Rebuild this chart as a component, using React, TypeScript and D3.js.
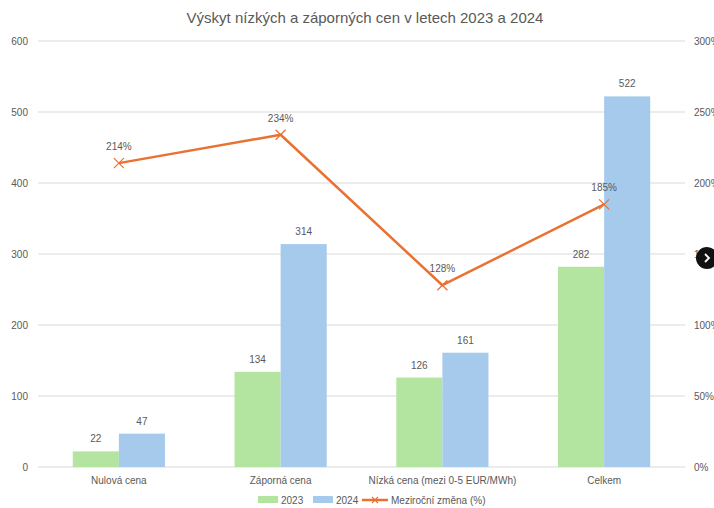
import { useEffect, useRef } from 'react';
import * as d3 from 'd3';

const categories = ['Nulová cena', 'Záporná cena', 'Nízká cena (mezi 0-5 EUR/MWh)', 'Celkem'];
const values2023 = [22, 134, 126, 282];
const values2024 = [47, 314, 161, 522];
const changePct = [214, 234, 128, 185];
const leftTicks = [0, 100, 200, 300, 400, 500, 600];
const rightTicks = [0, 50, 100, 150, 200, 250, 300];

const W = 714;
const H = 508;
const FONT = "'Liberation Sans', Arial, sans-serif";
const GREY = '#595959';
const GREEN = '#b3e5a1';
const BLUE = '#a6caec';
const ORANGE = '#e97132';

export default function App() {
  const ref = useRef<SVGSVGElement>(null);

  useEffect(() => {
    if (!ref.current) return;
    const svg = d3.select(ref.current);
    svg.selectAll('*').remove();

    const left = 38, right = 685, top = 41, bottom = 467;

    const x = d3.scaleBand<string>().domain(categories).range([left, right])
      .paddingInner(0.43).paddingOuter(0.215);
    const xs = d3.scaleBand<string>().domain(['2023', '2024']).range([0, x.bandwidth()]);
    const y = d3.scaleLinear().domain([0, 600]).range([bottom, top]);
    const y2 = d3.scaleLinear().domain([0, 300]).range([bottom, top]);

    svg.append('rect').attr('width', W).attr('height', H).attr('fill', '#fff');

    // title
    svg.append('text').attr('x', 365).attr('y', 23).attr('text-anchor', 'middle')
      .attr('font-size', 15).attr('fill', GREY).attr('font-family', FONT)
      .text('Výskyt nízkých a záporných cen v letech 2023 a 2024');

    // grid + axes
    const g = svg.append('g').attr('font-family', FONT).attr('font-size', 10).attr('fill', GREY);
    leftTicks.forEach(t => {
      g.append('line').attr('x1', left).attr('x2', right).attr('y1', y(t)).attr('y2', y(t))
        .attr('stroke', '#d9d9d9').attr('stroke-width', 1);
      g.append('text').attr('x', 28).attr('y', y(t) + 3.5).attr('text-anchor', 'end').text(t);
    });
    rightTicks.forEach(t => {
      g.append('text').attr('x', 694).attr('y', y2(t) + 3.5).attr('text-anchor', 'start').text(`${t}%`);
    });

    const marks = svg.append('g');
    const labels = svg.append('g').attr('font-family', FONT).attr('font-size', 10).attr('fill', GREY);

    // bars
    const series = [
      { key: '2023', vals: values2023, color: GREEN },
      { key: '2024', vals: values2024, color: BLUE },
    ];
    series.forEach(s => {
      categories.forEach((c, i) => {
        const bx = (x(c) ?? 0) + (xs(s.key) ?? 0);
        marks.append('rect').attr('x', bx).attr('y', y(s.vals[i]))
          .attr('width', xs.bandwidth()).attr('height', bottom - y(s.vals[i])).attr('fill', s.color);
        labels.append('text').attr('x', bx + xs.bandwidth() / 2).attr('y', y(s.vals[i]) - 9)
          .attr('text-anchor', 'middle').text(s.vals[i]);
      });
    });

    // category labels
    categories.forEach(c => {
      labels.append('text').attr('x', (x(c) ?? 0) + x.bandwidth() / 2).attr('y', 484)
        .attr('text-anchor', 'middle').text(c);
    });

    // line
    const cx = (c: string) => (x(c) ?? 0) + x.bandwidth() / 2;
    const line = d3.line<number>().x((_, i) => cx(categories[i])).y(d => y2(d));
    marks.append('path').datum(changePct).attr('d', line).attr('fill', 'none')
      .attr('stroke', ORANGE).attr('stroke-width', 2.5).attr('stroke-linejoin', 'round');
    changePct.forEach((v, i) => {
      const px = cx(categories[i]), py = y2(v);
      marks.append('path').attr('d', `M${px - 5},${py - 5}L${px + 5},${py + 5}M${px - 5},${py + 5}L${px + 5},${py - 5}`)
        .attr('stroke', ORANGE).attr('stroke-width', 1.2);
      labels.append('text').attr('x', px).attr('y', py - 13).attr('text-anchor', 'middle').text(`${v}%`);
    });

    // legend
    const ly = 500;
    const lg = svg.append('g').attr('font-family', FONT).attr('font-size', 10).attr('fill', GREY);
    lg.append('rect').attr('x', 258).attr('y', ly - 4).attr('width', 20).attr('height', 7).attr('fill', GREEN);
    lg.append('text').attr('x', 281).attr('y', ly + 3.5).text('2023');
    lg.append('rect').attr('x', 313).attr('y', ly - 4).attr('width', 20).attr('height', 7).attr('fill', BLUE);
    lg.append('text').attr('x', 336).attr('y', ly + 3.5).text('2024');
    lg.append('line').attr('x1', 362).attr('x2', 388).attr('y1', ly).attr('y2', ly)
      .attr('stroke', ORANGE).attr('stroke-width', 2.5);
    lg.append('path').attr('d', `M${372},${ly - 3}L${378},${ly + 3}M${372},${ly + 3}L${378},${ly - 3}`)
      .attr('stroke', ORANGE).attr('stroke-width', 1.2);
    lg.append('text').attr('x', 391).attr('y', ly + 3.5).text('Meziroční změna (%)');

    // overlay navigation button
    svg.append('circle').attr('cx', 707).attr('cy', 258).attr('r', 11).attr('fill', '#111');
    svg.append('path').attr('d', 'M705,254L709,258L705,262').attr('fill', 'none')
      .attr('stroke', '#fff').attr('stroke-width', 1.8);
  }, []);

  return (
    <div style={{ position: 'fixed', left: 0, top: 0 }}>
      <svg ref={ref} width={W} height={H} style={{ display: 'block' }} />
    </div>
  );
}
